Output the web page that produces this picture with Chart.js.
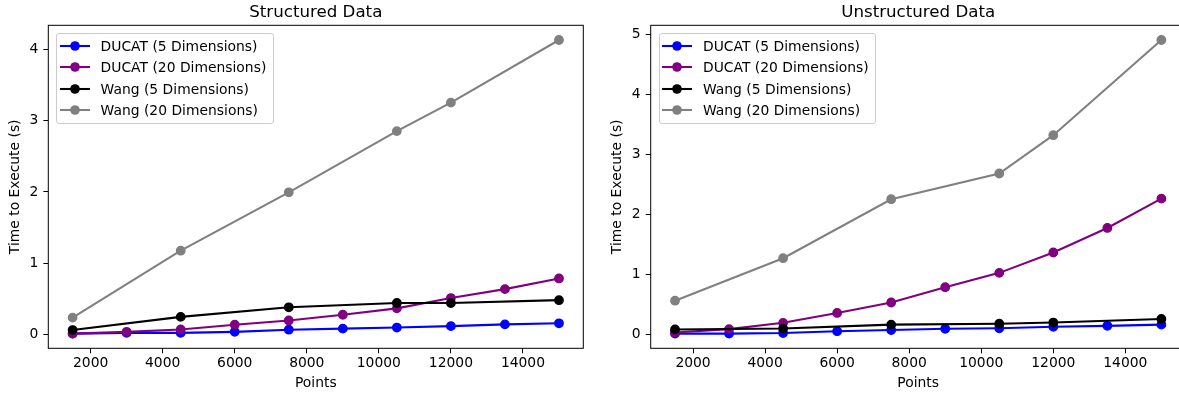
<!DOCTYPE html>
<html>
<head>
<meta charset="utf-8">
<script src="https://cdn.jsdelivr.net/npm/chart.js@4.4.1/dist/chart.umd.min.js"></script>
<style>
html, body { margin: 0; padding: 0; overflow: hidden; background: #fff; width: 1179px; height: 393px; }
.panel { position: absolute; top: 0; height: 393px; }
.legend { position: absolute; top: 33.3px; background: rgba(255,255,255,0.8); border: 1px solid #ccc; border-radius: 3px;
  padding: 1px 6.5px 2px 2.5px; font-family: 'DejaVu Sans'; font-size: 13.89px; color: #000; }
.legend .row { height: 21.4px; display: flex; align-items: center; white-space: nowrap; }
.legend svg { margin-right: 10.8px; flex: none; }
</style>
</head>
<body>
<div class="panel" style="left:0; width:590px;">
  <canvas id="structuredChart" width="590" height="393"></canvas>
  <div class="legend" id="structuredLegend" style="left:56.3px;"></div>
</div>
<div class="panel" style="left:590px; width:680px;">
  <canvas id="unstructuredChart" width="680" height="393"></canvas>
  <div class="legend" id="unstructuredLegend" style="left:68.7px;"></div>
</div>
<script>
// x values (number of points)
var ducatPoints = [1500, 3000, 4500, 6000, 7500, 9000, 10500, 12000, 13500, 15000];
var wangPoints = [1500, 4500, 7500, 10500, 12000, 15000];
var xTicks = [2000, 4000, 6000, 8000, 10000, 12000, 14000];

var seriesLabels = ["DUCAT (5 Dimensions)", "DUCAT (20 Dimensions)", "Wang (5 Dimensions)", "Wang (20 Dimensions)"];
var seriesColors = ['#0000ff', '#800080', '#000000', '#808080'];

// Structured data, time in seconds
var structDucat5 = [0.01, 0.02, 0.02, 0.035, 0.065, 0.08, 0.095, 0.115, 0.14, 0.155];
var structDucat20 = [0.01, 0.035, 0.068, 0.135, 0.195, 0.275, 0.365, 0.51, 0.635, 0.785];
var structWang5 = [0.06, 0.245, 0.38, 0.44, 0.44, 0.48];
var structWang20 = [0.235, 1.175, 1.995, 2.855, 3.255, 4.135];
var structYTicks = [0, 1, 2, 3, 4];

// Unstructured data, time in seconds
var unstructDucat5 = [0.01, 0.01, 0.02, 0.05, 0.07, 0.09, 0.1, 0.125, 0.14, 0.16];
var unstructDucat20 = [0.03, 0.085, 0.19, 0.355, 0.53, 0.785, 1.025, 1.365, 1.775, 2.265];
var unstructWang5 = [0.08, 0.095, 0.16, 0.175, 0.195, 0.255];
var unstructWang20 = [0.56, 1.27, 2.255, 2.685, 3.325, 4.915];
var unstructYTicks = [0, 1, 2, 3, 4, 5];

var FONT = 'DejaVu Sans';
var FS = 13.89;

function pairs(xs, ys) {
    return xs.map(function (x, i) { return { x: x, y: ys[i] }; });
}

// matplotlib style 5% margin round the data
function padRange(lists) {
    var all = [].concat.apply([], lists);
    var lo = Math.min.apply(null, all), hi = Math.max.apply(null, all);
    var m = (hi - lo) * 0.05;
    return [lo - m, hi + m];
}

// draw the full axes frame (all four spines)
var framePlugin = {
    id: 'frame',
    afterDraw: function (chart) {
	var a = chart.chartArea, ctx = chart.ctx;
	ctx.save();
	ctx.strokeStyle = '#000';
	ctx.lineWidth = 1;
	ctx.strokeRect(a.left, a.top, a.right - a.left, a.bottom - a.top);
	ctx.restore();
    }
};

function buildLegend(chart, id) {
    var box = document.getElementById(id);
    chart.data.datasets.forEach(function (ds) {
	var row = document.createElement('div');
	row.className = 'row';
	row.innerHTML = '<svg width="30" height="12"><line x1="0" y1="6" x2="30" y2="6" stroke="' + ds.borderColor +
	    '" stroke-width="2.08"/><circle cx="15" cy="6" r="4.8" fill="' + ds.borderColor + '"/></svg>';
	var span = document.createElement('span');
	span.textContent = ds.label;
	row.appendChild(span);
	box.appendChild(row);
    });
}

function makeChart(canvasId, legendId, title, d5, d20, w5, w20, yTicks, padLeft, padRight) {
    var series = [pairs(ducatPoints, d5), pairs(ducatPoints, d20), pairs(wangPoints, w5), pairs(wangPoints, w20)];
    var xr = padRange([ducatPoints, wangPoints]);
    var yr = padRange([d5, d20, w5, w20]);
    var ctx = document.getElementById(canvasId);
    var chart = new Chart(ctx, {
	type : 'line',
	data : {
	    datasets : series.map(function (pts, i) {
		return {
		    label : seriesLabels[i],
		    data : pts,
		    borderColor : seriesColors[i],
		    backgroundColor : seriesColors[i],
		    borderWidth : 2.08,
		    pointRadius : 4.2,
		    pointBorderWidth : 1.4,
		    tension : 0,
		    fill : false,
		    order : 4 - i
		};
	    })
	},
	options : {
	    responsive : false,
	    animation : false,
	    layout : { padding : { left : padLeft, right : padRight, top : 0, bottom : 0 } },
	    plugins : {
		legend : { display : false },
		tooltip : { enabled : false },
		title : {
		    display : true,
		    text : title,
		    fullSize : false,
		    color : '#000',
		    font : { family : FONT, size : 16.67, weight : 'normal', lineHeight : 1.2 },
		    padding : { top : 2.4, bottom : 2.9 }
		}
	    },
	    scales : {
		x : {
		    type : 'linear',
		    min : xr[0],
		    max : xr[1],
		    afterBuildTicks : function (axis) {
			axis.ticks = xTicks.map(function (v) { return { value : v }; });
		    },
		    afterFit : function (scale) { scale.height = 44.7; },
		    border : { display : false },
		    grid : { drawOnChartArea : false, tickLength : 5, color : '#000', lineWidth : 1 },
		    ticks : {
			color : '#000', padding : 1.4, maxRotation : 0, autoSkip : false,
			font : { family : FONT, size : FS },
			callback : function (v) { return String(v); }
		    },
		    title : {
			display : true, text : 'Points', color : '#000',
			font : { family : FONT, size : FS },
			padding : { top : 0, bottom : 1.4 }
		    }
		},
		y : {
		    type : 'linear',
		    min : yr[0],
		    max : yr[1],
		    afterBuildTicks : function (axis) {
			axis.ticks = yTicks.map(function (v) { return { value : v }; });
		    },
		    afterFit : function (scale) { scale.width = 48.3; },
		    border : { display : false },
		    grid : { drawOnChartArea : false, tickLength : 5, color : '#000', lineWidth : 1 },
		    ticks : {
			color : '#000', padding : 5, autoSkip : false,
			font : { family : FONT, size : FS },
			callback : function (v) { return String(v); }
		    },
		    title : {
			display : true, text : 'Time to Execute (s)', color : '#000',
			font : { family : FONT, size : FS },
			padding : { top : 7, bottom : 0 }
		    }
		}
	    }
	},
	plugins : [ framePlugin ]
    });
    buildLegend(chart, legendId);
    return chart;
}

makeChart('structuredChart', 'structuredLegend', 'Structured Data',
    structDucat5, structDucat20, structWang5, structWang20, structYTicks, 0, 6.7);
makeChart('unstructuredChart', 'unstructuredLegend', 'Unstructured Data',
    unstructDucat5, unstructDucat20, unstructWang5, unstructWang20, unstructYTicks, 12.4, 84.3);
</script>
</body>
</html>
